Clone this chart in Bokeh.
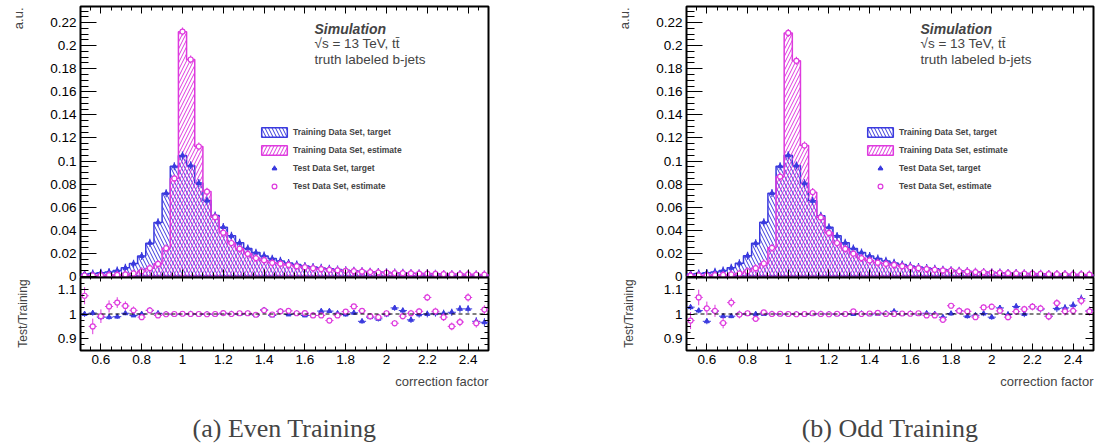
import numpy as np
from bokeh.plotting import figure
from bokeh.layouts import column, row
from bokeh.models import (LinearAxis, SingleIntervalTicker, NumeralTickFormatter, Range1d,
                          Label, Legend, LegendItem, Span, ColumnDataSource)
from bokeh.embed import file_html
from bokeh.resources import INLINE

# ---- binning of the correction factor ----
X_LO, X_HI, N_BINS = 0.5, 2.5, 50
edges = np.linspace(X_LO, X_HI, N_BINS + 1)
centers = 0.5 * (edges[:-1] + edges[1:])

# ---- normalised training distributions (a.u.) ----
even_target_train = [
    0.0022, 0.0026, 0.0032, 0.0040, 0.0052, 0.0075, 0.0112, 0.0178, 0.0287, 0.0468,
    0.0722, 0.0955, 0.1048, 0.0962, 0.0810, 0.0658, 0.0528, 0.0427, 0.0352, 0.0292,
    0.0243, 0.0207, 0.0178, 0.0155, 0.0135, 0.0118, 0.0104, 0.0092, 0.0082, 0.0074,
    0.0067, 0.0060, 0.0055, 0.0050, 0.0046, 0.0042, 0.0039, 0.0036, 0.0033, 0.0031,
    0.0029, 0.0027, 0.0025, 0.0023, 0.0022, 0.0020, 0.0019, 0.0018, 0.0017, 0.0016]
even_estimate_train = [
    0.0008, 0.0009, 0.0010, 0.0012, 0.0014, 0.0018, 0.0026, 0.0045, 0.0072, 0.0110,
    0.0245, 0.0850, 0.2120, 0.1880, 0.1126, 0.0736, 0.0514, 0.0378, 0.0290, 0.0240,
    0.0196, 0.0160, 0.0139, 0.0119, 0.0110, 0.0100, 0.0089, 0.0080, 0.0072, 0.0065,
    0.0059, 0.0054, 0.0049, 0.0045, 0.0042, 0.0039, 0.0036, 0.0033, 0.0031, 0.0029,
    0.0027, 0.0025, 0.0024, 0.0022, 0.0021, 0.0020, 0.0019, 0.0018, 0.0017, 0.0016]
odd_target_train = [
    0.0022, 0.0026, 0.0032, 0.0040, 0.0052, 0.0076, 0.0114, 0.0180, 0.0288, 0.0470,
    0.0722, 0.0956, 0.1050, 0.0962, 0.0808, 0.0656, 0.0526, 0.0426, 0.0352, 0.0292,
    0.0243, 0.0207, 0.0178, 0.0155, 0.0135, 0.0118, 0.0104, 0.0092, 0.0082, 0.0074,
    0.0067, 0.0060, 0.0055, 0.0050, 0.0046, 0.0042, 0.0039, 0.0036, 0.0033, 0.0031,
    0.0029, 0.0027, 0.0025, 0.0023, 0.0022, 0.0020, 0.0019, 0.0018, 0.0017, 0.0016]
odd_estimate_train = [
    0.0008, 0.0009, 0.0010, 0.0012, 0.0014, 0.0018, 0.0026, 0.0046, 0.0074, 0.0112,
    0.0248, 0.0865, 0.2110, 0.1870, 0.1135, 0.0730, 0.0512, 0.0378, 0.0290, 0.0240,
    0.0196, 0.0160, 0.0139, 0.0119, 0.0110, 0.0100, 0.0089, 0.0080, 0.0072, 0.0065,
    0.0059, 0.0054, 0.0049, 0.0045, 0.0042, 0.0039, 0.0036, 0.0033, 0.0031, 0.0029,
    0.0027, 0.0025, 0.0024, 0.0022, 0.0021, 0.0020, 0.0019, 0.0018, 0.0017, 0.0016]

# ---- test / training ratios ----
even_ratio_target = [
    1.000, 1.004, 0.987, 0.987, 0.989, 1.003, 0.994, 1.000, 1.015, 1.003,
    1.000, 0.999, 1.000, 1.001, 0.999, 1.000, 0.999, 1.003, 1.001, 1.000,
    1.002, 0.995, 1.017, 0.994, 1.011, 0.998, 1.003, 0.994, 0.994, 1.012,
    1.012, 1.003, 0.998, 1.005, 0.970, 0.987, 0.980, 0.998, 1.025, 1.014,
    0.976, 0.998, 1.000, 1.003, 1.003, 1.007, 1.021, 1.021, 0.970, 0.966]
even_ratio_estimate = [
    1.075, 0.949, 0.991, 1.031, 1.047, 1.033, 1.015, 0.987, 1.015, 0.994,
    0.999, 1.000, 1.001, 1.000, 1.000, 0.999, 1.000, 1.004, 1.000, 1.003,
    1.003, 0.997, 1.015, 0.998, 1.011, 1.013, 1.003, 1.004, 0.994, 0.994,
    0.973, 0.994, 1.010, 1.031, 1.013, 0.991, 0.987, 1.003, 0.962, 0.991,
    1.003, 1.011, 1.068, 1.011, 0.987, 0.949, 0.967, 1.068, 0.962, 1.018]
odd_ratio_target = [
    1.028, 1.014, 0.970, 1.012, 0.991, 0.991, 1.000, 1.000, 1.000, 1.000,
    1.001, 0.999, 1.000, 1.000, 0.999, 1.000, 1.001, 1.000, 0.999, 1.000,
    1.000, 1.002, 0.999, 1.001, 1.003, 1.011, 1.000, 1.002, 1.000, 1.003,
    1.000, 0.987, 1.002, 1.014, 0.991, 0.995, 1.002, 0.987, 1.025, 0.998,
    1.031, 1.000, 1.030, 1.020, 0.991, 1.023, 1.025, 1.036, 1.063, 1.013]
odd_ratio_estimate = [
    0.973, 1.068, 1.023, 1.013, 0.963, 1.047, 0.998, 1.003, 0.980, 1.007,
    1.000, 1.001, 1.000, 0.999, 1.000, 1.003, 1.000, 0.999, 1.001, 1.000,
    1.011, 1.000, 1.002, 1.005, 1.000, 1.000, 1.002, 1.001, 1.003, 0.994,
    0.994, 0.976, 1.034, 1.013, 1.011, 0.987, 1.027, 1.030, 1.013, 0.987,
    1.010, 1.020, 1.030, 1.023, 0.990, 1.045, 1.011, 1.013, 1.054, 1.011]

# ---- statistical uncertainties on the ratios ----
ratio_err_target = [
    0.012, 0.011, 0.012, 0.010, 0.009, 0.008, 0.006, 0.005, 0.004, 0.003,
    0.003, 0.002, 0.002, 0.002, 0.002, 0.002, 0.003, 0.003, 0.003, 0.004,
    0.004, 0.004, 0.005, 0.005, 0.005, 0.006, 0.006, 0.007, 0.007, 0.007,
    0.008, 0.008, 0.009, 0.009, 0.010, 0.010, 0.011, 0.011, 0.012, 0.012,
    0.013, 0.013, 0.014, 0.014, 0.015, 0.015, 0.016, 0.016, 0.017, 0.017]
ratio_err_estimate = [
    0.035, 0.032, 0.028, 0.025, 0.022, 0.019, 0.016, 0.012, 0.009, 0.007,
    0.004, 0.002, 0.001, 0.001, 0.002, 0.002, 0.003, 0.003, 0.004, 0.004,
    0.005, 0.005, 0.005, 0.006, 0.006, 0.006, 0.007, 0.007, 0.008, 0.008,
    0.009, 0.009, 0.010, 0.010, 0.011, 0.011, 0.012, 0.012, 0.013, 0.013,
    0.014, 0.014, 0.015, 0.015, 0.016, 0.016, 0.017, 0.017, 0.018, 0.018]

legend_labels = ["Training Data Set, target", "Training Data Set, estimate",
                 "Test Data Set, target", "Test Data Set, estimate"]
info_lines = ["Simulation", "\u221as = 13 TeV, tt\u0304", "truth labeled b-jets"]
captions = ["(a) Even Training", "(b) Odd Training"]

BLUE = "#3a3ade"
MAGENTA = "#de3ade"
FONT = "Liberation Sans"
TICK_FS = "13.5px"
HATCH_SCALE = 7
Y_MAX = 0.2339

MAIN_H, MAIN_BOTTOM, RATIO_H = 283, 7, 96
COL_H = MAIN_H + RATIO_H - MAIN_BOTTOM
CAP_H = 443 - COL_H
TICK_BORDER = 34  # room for the y tick labels


def set_ticks(ax, major_in, minor_in):
    ax.major_tick_in = major_in
    ax.major_tick_out = 0
    ax.minor_tick_in = minor_in
    ax.minor_tick_out = 0
    ax.axis_line_color = None


def tick_only_axis(interval, major_in, minor_in, at):
    ax = LinearAxis(ticker=SingleIntervalTicker(interval=interval, num_minor_ticks=4),
                    fixed_location=at)
    set_ticks(ax, major_in, minor_in)
    ax.major_label_text_color = None
    ax.major_label_text_alpha = 0
    return ax


def style_labels(ax, fmt):
    ax.formatter = NumeralTickFormatter(format=fmt)
    ax.major_label_text_font = FONT
    ax.major_label_text_font_size = TICK_FS
    ax.major_label_text_color = "black"
    ax.major_label_standoff = 4


def panel(target, estimate, r_target, r_estimate, frame_left, frame_w, rb, caption):
    ylab_w = frame_left - TICK_BORDER
    fig_w = TICK_BORDER + frame_w + rb
    target = np.array(target)
    estimate = np.array(estimate)
    r_target = np.array(r_target)
    r_estimate = np.array(r_estimate)
    e_target = np.array(ratio_err_target)
    e_estimate = np.array(ratio_err_estimate)

    src = ColumnDataSource(dict(
        left=edges[:-1], right=edges[1:], x=centers,
        test_t=target * r_target, test_e=estimate * r_estimate,
        r_t=r_target, r_e=r_estimate,
        rt_lo=r_target - e_target, rt_hi=r_target + e_target,
        re_lo=r_estimate - e_estimate, re_hi=r_estimate + e_estimate,
    ))
    # closed step outlines of the histograms
    step_x = np.repeat(edges, 2)
    step_t = np.concatenate([[0], np.repeat(target, 2), [0]])
    step_e = np.concatenate([[0], np.repeat(estimate, 2), [0]])

    # ---------------- upper pad: distributions ----------------
    main = figure(width=fig_w, height=MAIN_H, x_range=Range1d(X_LO, X_HI),
                  y_range=Range1d(0, Y_MAX), output_backend="svg", toolbar_location=None,
                  x_axis_location=None,
                  min_border_left=TICK_BORDER, min_border_right=rb, min_border_top=6,
                  min_border_bottom=MAIN_BOTTOM)
    main.grid.visible = False
    main.outline_line_color = "black"
    main.outline_line_width = 2

    yax = main.yaxis[0]
    yax.ticker = SingleIntervalTicker(interval=0.02, num_minor_ticks=4)
    set_ticks(yax, 16, 8)
    style_labels(yax, "0.[00]")

    main.add_layout(tick_only_axis(0.2, 7, 4, 0), "below")
    main.add_layout(tick_only_axis(0.2, 7, 4, Y_MAX), "above")

    r_t = main.patch(x=step_x, y=step_t, fill_color=None, line_color=BLUE, line_width=1.5,
                     hatch_pattern="left_diagonal_line", hatch_color=BLUE,
                     hatch_scale=HATCH_SCALE, hatch_weight=1)
    r_e = main.patch(x=step_x, y=step_e, fill_color=None, line_color=MAGENTA, line_width=1.5,
                     hatch_pattern="right_diagonal_line", hatch_color=MAGENTA,
                     hatch_scale=HATCH_SCALE, hatch_weight=1)

    bar_t = main.scatter(x="x", y="test_t", source=src, marker="dash", angle=np.pi / 2, size=8,
                         line_color=BLUE, line_width=1.2)
    mk_t = main.scatter(x="x", y="test_t", source=src, marker="triangle", size=5,
                        fill_color=BLUE, line_color=BLUE)
    bar_e = main.scatter(x="x", y="test_e", source=src, marker="dash", angle=np.pi / 2, size=8,
                         line_color=MAGENTA, line_width=1.2)
    mk_e = main.scatter(x="x", y="test_e", source=src, marker="circle", size=5,
                        fill_color="white", line_color=MAGENTA, line_width=1.2)

    legend = Legend(items=[
        LegendItem(label=legend_labels[0], renderers=[r_t]),
        LegendItem(label=legend_labels[1], renderers=[r_e]),
        LegendItem(label=legend_labels[2], renderers=[bar_t, mk_t], index=0),
        LegendItem(label=legend_labels[3], renderers=[bar_e, mk_e], index=0),
    ], location=(178, 84), padding=0, margin=0, spacing=6, glyph_width=32, glyph_height=12,
        label_height=12, label_standoff=3, label_text_font=FONT, label_text_font_size="8.5px",
        label_text_font_style="bold", border_line_color=None, background_fill_alpha=0)
    main.add_layout(legend)

    main.add_layout(Label(x=234, y=239.5, x_units="screen", y_units="screen", text=info_lines[0],
                          text_font=FONT, text_font_style="bold italic", text_font_size="14px"))
    main.add_layout(Label(x=234, y=226, x_units="screen", y_units="screen", text=info_lines[1],
                          text_font=FONT, text_font_size="13.5px"))
    main.add_layout(Label(x=234, y=210, x_units="screen", y_units="screen", text=info_lines[2],
                          text_font=FONT, text_font_size="13.5px"))

    # ---------------- lower pad: ratio ----------------
    ratio = figure(width=fig_w, height=RATIO_H, x_range=main.x_range,
                   y_range=Range1d(0.85, 1.15), output_backend="svg", toolbar_location=None,
                   min_border_left=TICK_BORDER, min_border_right=rb, min_border_top=1,
                   min_border_bottom=22, margin=(-MAIN_BOTTOM, 0, 0, 0))
    ratio.grid.visible = False
    ratio.outline_line_color = "black"
    ratio.outline_line_width = 2
    ratio.border_fill_alpha = 0
    ratio.background_fill_alpha = 0

    ryax = ratio.yaxis[0]
    ryax.ticker = SingleIntervalTicker(interval=0.1, num_minor_ticks=4)
    set_ticks(ryax, 8, 4)
    style_labels(ryax, "0.[0]")

    rxax = ratio.xaxis[0]
    rxax.ticker = SingleIntervalTicker(interval=0.2, num_minor_ticks=4)
    set_ticks(rxax, 7, 4)
    style_labels(rxax, "0.[0]")

    ratio.add_layout(tick_only_axis(0.1, 8, 4, X_HI), "right")
    ratio.add_layout(tick_only_axis(0.2, 4, 2, 1.15), "above")

    ratio.add_layout(Span(location=1.0, dimension="width", line_color="black",
                          line_dash="4 3", line_width=1))

    ratio.segment(x0="left", x1="right", y0="r_t", y1="r_t", source=src, line_color=BLUE, line_width=1)
    ratio.segment(x0="x", x1="x", y0="rt_lo", y1="rt_hi", source=src, line_color=BLUE, line_width=1)
    ratio.scatter(x="x", y="r_t", source=src, marker="triangle", size=5, fill_color=BLUE, line_color=BLUE)
    ratio.segment(x0="left", x1="right", y0="r_e", y1="r_e", source=src, line_color=MAGENTA, line_width=1)
    ratio.segment(x0="x", x1="x", y0="re_lo", y1="re_hi", source=src, line_color=MAGENTA, line_width=1)
    ratio.scatter(x="x", y="r_e", source=src, marker="circle", size=5, fill_color="white",
                  line_color=MAGENTA, line_width=1.2)

    # ---------------- y axis titles ----------------
    ylab = figure(width=ylab_w, height=COL_H, x_axis_location=None, y_axis_location=None,
                  toolbar_location=None, min_border=0, output_backend="svg",
                  x_range=Range1d(0, 1), y_range=Range1d(0, 1))
    ylab.outline_line_color = None
    ylab.grid.visible = False
    ylab.add_layout(Label(x=ylab_w - 28, y=COL_H - 7, x_units="screen", y_units="screen",
                          text="a.u.", angle=np.pi / 2, text_align="right",
                          text_baseline="alphabetic", text_font=FONT, text_font_size="13px"))
    ylab.add_layout(Label(x=ylab_w - 24, y=COL_H - 313, x_units="screen", y_units="screen",
                          text="Test/Training", angle=np.pi / 2, text_align="center",
                          text_baseline="alphabetic", text_font=FONT, text_font_size="12px"))

    # ---------------- x axis title and caption ----------------
    cap = figure(width=ylab_w + fig_w, height=CAP_H, x_axis_location=None, y_axis_location=None,
                 toolbar_location=None, min_border=0, output_backend="svg",
                 x_range=Range1d(0, 1), y_range=Range1d(0, 1))
    cap.outline_line_color = None
    cap.grid.visible = False
    cap.add_layout(Label(x=frame_left + frame_w, y=62, x_units="screen",
                         y_units="screen", text="correction factor", text_align="right",
                         text_baseline="alphabetic", text_font=FONT, text_font_size="13px"))
    cap.add_layout(Label(x=frame_left + frame_w / 2, y=15, x_units="screen",
                         y_units="screen", text=caption, text_align="center",
                         text_baseline="alphabetic", text_font="Liberation Serif",
                         text_font_size="26px"))

    return column(row(ylab, column(main, ratio, spacing=0), spacing=0), cap, spacing=0)


left = panel(even_target_train, even_estimate_train, even_ratio_target, even_ratio_estimate,
             80, 408, 112, captions[0])
right = panel(odd_target_train, odd_estimate_train, odd_ratio_target, odd_ratio_estimate,
              86, 407, 2, captions[1])
p = row(left, right, spacing=0)

open("out.html", "w").write(file_html(p, INLINE))
